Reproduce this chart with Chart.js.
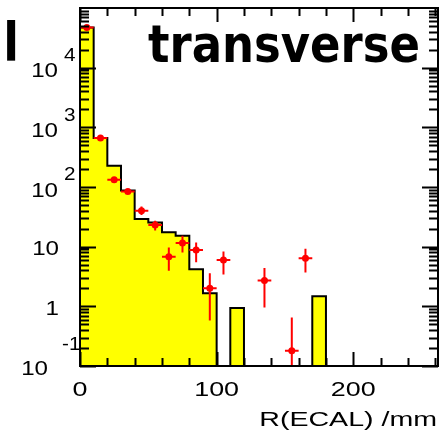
<!DOCTYPE html>
<html>
<head>
<meta charset="utf-8">
<script src="https://cdn.jsdelivr.net/npm/chart.js@4.4.0/dist/chart.umd.min.js"></script>
<style>
  body { margin: 0; background: #fff; }
</style>
</head>
<body>
<canvas id="r-chart" width="444" height="434"></canvas>
<script>
// histogram bins (lower edges, mm) and simulated counts
const binLow = [0, 10, 20, 30, 40, 50, 60, 70, 80, 90, 100, 110, 120, 130, 140, 150, 160, 170];
const binWidth = 10;
const mcCounts = [47000, 662, 227, 87, 29, 25.5, 17.4, 15.3, 4.2, 1.66, 0, 0.94, 0, 0, 0, 0, 0, 1.47];

// measured points with vertical errors
const dataX = [5, 15, 25, 35, 45, 55, 65, 75, 85, 95, 105, 135, 155, 165];
const dataY = [47000, 665, 132, 84, 40, 23, 6.8, 11.5, 8.8, 2.0, 6.0, 2.7, 0.18, 6.4];
const dataErrLow = [46000, 640, 122, 76, 34, 18.6, 3.96, 8.0, 5.5, 0.58, 3.4, 0.96, 0.05, 3.7];
const dataErrHigh = [48000, 690, 142, 92, 47, 27.2, 9.7, 15.3, 11.8, 3.6, 8.3, 4.4, 0.65, 9.2];

// axes
const xMin = 0;
const xMax = 262;
const yMin = 0.1;
const yMax = 100000;
const xLabelValues = [0, 100, 200];
const xMinorStep = 20;
const yTickValues = [0.1, 1, 10, 100, 1000, 10000];
const yTickLabels = [["10", "-1"], ["1", ""], ["10", ""], ["10", "2"], ["10", "3"], ["10", "4"]];

const axisTitle = "R(ECAL) /mm";
const panelTitle = "transverse";
const cutTitle = "al";

const histPoints = [{ x: binLow[0], y: yMin }];
mcCounts.forEach((v, i) => {
  histPoints.push({ x: binLow[i], y: Math.max(v, yMin) });
});
const lastBin = binLow.length - 1;
histPoints.push({ x: binLow[lastBin] + binWidth, y: Math.max(mcCounts[lastBin], yMin) });
histPoints.push({ x: binLow[lastBin] + binWidth, y: yMin });

const dataPoints = dataX.map((x, i) => ({ x: x, y: dataY[i] }));

// text with a horizontal stretch, y is the vertical centre of the digits
const drawText = (ctx, text, x, y, size, align, stretch, font) => {
  ctx.save();
  ctx.font = font || size + "px 'Liberation Sans', Arial, sans-serif";
  ctx.textAlign = align;
  ctx.textBaseline = "alphabetic";
  ctx.fillStyle = "#000";
  ctx.translate(x, y + size * 0.358);
  ctx.scale(stretch, 1);
  ctx.fillText(text, 0, 0);
  ctx.restore();
};

const rootFrame = {
  id: "rootFrame",
  afterDatasetsDraw(chart) {
    const { ctx, chartArea: a, scales } = chart;
    const xs = scales.x;
    const ys = scales.y;

    // error bars
    ctx.save();
    ctx.beginPath();
    ctx.rect(a.left, a.top, a.right - a.left, a.bottom - a.top);
    ctx.clip();
    ctx.strokeStyle = "#ff0000";
    ctx.lineWidth = 2;
    dataX.forEach((cx, i) => {
      const px = xs.getPixelForValue(cx);
      const py = ys.getPixelForValue(dataY[i]);
      ctx.beginPath();
      ctx.moveTo(xs.getPixelForValue(cx - binWidth / 2), py);
      ctx.lineTo(xs.getPixelForValue(cx + binWidth / 2), py);
      ctx.moveTo(px, ys.getPixelForValue(dataErrLow[i]));
      ctx.lineTo(px, ys.getPixelForValue(dataErrHigh[i]));
      ctx.stroke();
    });
    ctx.restore();

    // tick marks, pointing inwards on all four sides
    ctx.save();
    ctx.strokeStyle = "#000";
    ctx.lineWidth = 2;
    ctx.beginPath();
    yTickValues.forEach((d) => {
      for (let k = 1; k <= 9; k++) {
        const v = d * k;
        if (v > yMax) break;
        const py = Math.round(ys.getPixelForValue(v)) + 0.5;
        const len = k === 1 ? 16 : 9;
        ctx.moveTo(a.left, py);
        ctx.lineTo(a.left + len, py);
        ctx.moveTo(a.right, py);
        ctx.lineTo(a.right - len, py);
      }
    });
    for (let v = xMin; v <= xMax; v += xMinorStep) {
      const px = Math.round(xs.getPixelForValue(v)) + 0.5;
      const len = xLabelValues.includes(v) ? 14 : 8;
      ctx.moveTo(px, a.bottom);
      ctx.lineTo(px, a.bottom - len);
      ctx.moveTo(px, a.top);
      ctx.lineTo(px, a.top + len);
    }
    ctx.stroke();
    ctx.strokeRect(a.left, a.top, a.right - a.left, a.bottom - a.top);
    ctx.restore();

    // y labels, ROOT style 10 with exponent
    yTickValues.forEach((v, i) => {
      const py = ys.getPixelForValue(v);
      const [base, exp] = yTickLabels[i];
      if (exp.startsWith("-")) {
        drawText(ctx, base, a.left - 32, py + 1, 21, "right", 1.15);
        drawText(ctx, exp, a.left - 18, py - 22, 18, "left", 1.15);
      } else if (exp) {
        drawText(ctx, base, a.left - 22, py + 2, 21, "right", 1.15);
        drawText(ctx, exp, a.left - 16, py - 13, 18, "left", 1.15);
      } else {
        drawText(ctx, base, a.left - 21, py + 1, 21, "right", 1.15);
      }
    });

    // x labels and title
    xLabelValues.forEach((v) => {
      drawText(ctx, String(v), xs.getPixelForValue(v), 388, 21, "center", 1.28);
    });
    drawText(ctx, axisTitle, a.right - 1, 418, 21, "right", 1.36);

    // panel titles
    const bold = "bold 51px 'DejaVu Sans', sans-serif";
    ctx.save();
    ctx.font = bold;
    const w = ctx.measureText(panelTitle).width;
    ctx.restore();
    ctx.save();
    ctx.font = bold;
    ctx.fillStyle = "#000";
    ctx.textBaseline = "alphabetic";
    ctx.translate(148, 62);
    ctx.scale(272 / w, 1);
    ctx.fillText(panelTitle, 0, 0);
    ctx.restore();
    ctx.save();
    ctx.font = bold;
    ctx.fillStyle = "#000";
    ctx.textAlign = "right";
    ctx.textBaseline = "alphabetic";
    ctx.translate(19, 61);
    ctx.scale(0.9, 1.06);
    ctx.fillText(cutTitle, 0, 0);
    ctx.restore();
  },
};

const rChart = document.getElementById("r-chart");
const rChartInstance = new Chart(rChart, {
  type: "line",
  data: {
    datasets: [
      {
        label: "data",
        data: dataPoints,
        showLine: false,
        pointRadius: 3.5,
        pointBackgroundColor: "#ff0000",
        pointBorderWidth: 0,
        order: 1,
      },
      {
        label: "simulation",
        data: histPoints,
        stepped: "before",
        borderColor: "#000",
        borderWidth: 2,
        backgroundColor: "#ffff00",
        fill: "start",
        pointRadius: 0,
        order: 2,
      },
    ],
  },
  options: {
    responsive: false,
    animation: false,
    layout: {
      padding: { left: 80, right: 6, top: 8, bottom: 68 },
    },
    plugins: {
      legend: { display: false },
      tooltip: { enabled: false },
    },
    scales: {
      x: { type: "linear", min: xMin, max: xMax, display: false },
      y: { type: "logarithmic", min: yMin, max: yMax, display: false },
    },
  },
  plugins: [rootFrame],
});
</script>
</body>
</html>
